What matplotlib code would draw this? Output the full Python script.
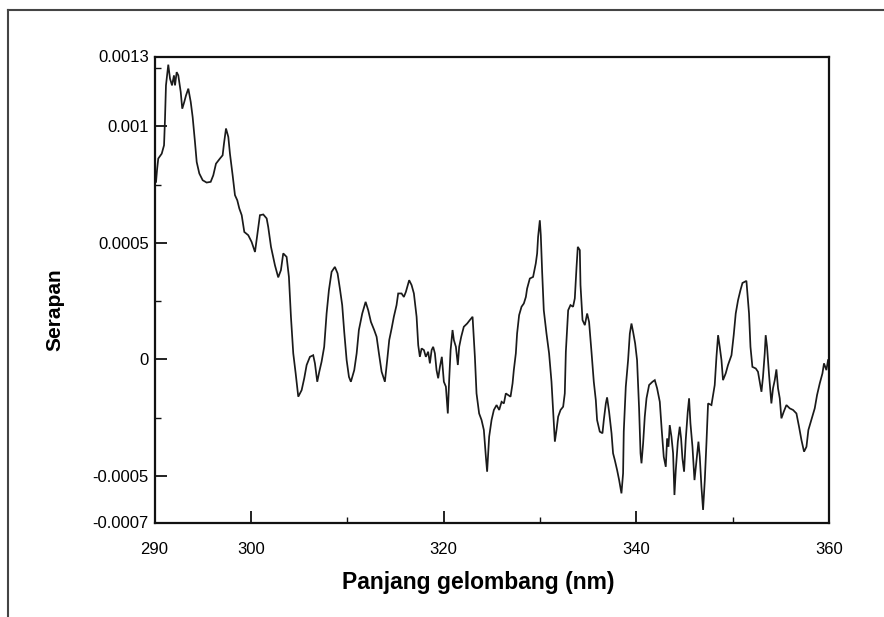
import matplotlib
matplotlib.use("Agg")
import matplotlib.pyplot as plt
from matplotlib.ticker import FixedLocator, FixedFormatter
from matplotlib.lines import Line2D

# ---- data ----
wavelength_nm = [
    290.16, 290.26, 290.39, 290.75, 290.99, 291.09, 291.19, 291.43, 291.61, 291.82,
    292.02, 292.13, 292.30, 292.47, 292.72, 292.88, 293.09, 293.27, 293.51, 293.76,
    293.96, 294.20, 294.38, 294.65, 295.00, 295.41, 295.83, 296.10, 296.38, 296.79,
    297.07, 297.21, 297.42, 297.66, 297.83, 298.11, 298.35, 298.59, 298.80, 299.05,
    299.32, 299.73, 300.08, 300.43, 300.66, 300.94, 301.29, 301.64, 301.80, 302.09,
    302.50, 302.84, 303.12, 303.36, 303.71, 303.95, 304.16, 304.40, 304.65, 304.92,
    305.27, 305.54, 305.79, 306.13, 306.47, 306.65, 306.89, 307.10, 307.34, 307.61,
    307.86, 308.10, 308.38, 308.72, 309.00, 309.24, 309.48, 309.69, 309.94, 310.18,
    310.38, 310.73, 310.98, 311.21, 311.56, 311.91, 312.18, 312.46, 312.80, 313.05,
    313.29, 313.57, 313.91, 314.15, 314.36, 314.61, 314.84, 315.12, 315.29, 315.64,
    315.88, 316.09, 316.43, 316.68, 316.92, 317.20, 317.37, 317.54, 317.72, 317.96,
    318.16, 318.40, 318.58, 318.76, 318.92, 319.10, 319.27, 319.44, 319.62, 319.82,
    320.03, 320.24, 320.44, 320.58, 320.73, 320.93, 321.07, 321.28, 321.48, 321.62,
    321.83, 322.10, 322.45, 322.73, 323.01, 323.25, 323.42, 323.69, 323.94, 324.18,
    324.39, 324.52, 324.73, 324.98, 325.22, 325.50, 325.77, 326.02, 326.26, 326.46,
    326.70, 326.95, 327.16, 327.29, 327.50, 327.63, 327.84, 328.09, 328.33, 328.54,
    328.67, 328.95, 329.29, 329.57, 329.71, 329.81, 329.99, 330.09, 330.23, 330.40,
    330.68, 330.95, 331.20, 331.37, 331.55, 331.72, 331.89, 332.14, 332.41, 332.58,
    332.69, 332.93, 333.17, 333.44, 333.62, 333.80, 333.93, 334.14, 334.21, 334.42,
    334.66, 334.90, 335.10, 335.35, 335.59, 335.80, 335.93, 336.21, 336.49, 336.63,
    336.84, 336.97, 337.18, 337.43, 337.59, 337.77, 338.01, 338.22, 338.46, 338.63,
    338.70, 338.91, 339.15, 339.33, 339.50, 339.67, 339.88, 340.08, 340.29, 340.44,
    340.54, 340.71, 340.88, 341.06, 341.33, 341.68, 341.92, 342.16, 342.44, 342.64,
    342.85, 343.06, 343.20, 343.34, 343.47, 343.65, 343.82, 343.96, 344.10, 344.31,
    344.51, 344.65, 344.79, 344.96, 345.13, 345.34, 345.48, 345.62, 345.83, 346.04,
    346.24, 346.45, 346.59, 346.76, 346.93, 347.11, 347.28, 347.45, 347.80, 348.14,
    348.32, 348.49, 348.66, 348.84, 349.00, 349.28, 349.52, 349.88, 350.11, 350.32,
    350.56, 350.81, 351.02, 351.43, 351.70, 351.85, 352.05, 352.40, 352.63, 352.81,
    352.99, 353.15, 353.33, 353.43, 353.57, 353.78, 354.02, 354.19, 354.37, 354.54,
    354.71, 354.89, 355.06, 355.30, 355.58, 355.92, 356.27, 356.62, 356.89, 357.14,
    357.41, 357.66, 357.86, 358.17, 358.52, 358.76, 359.04, 359.32, 359.48, 359.73,
    359.90,
]

absorbance = [
    0.000762, 0.000812, 0.000862, 0.000883, 0.000919, 0.001033, 0.001176, 0.001265, 0.001205, 0.001176,
    0.001219, 0.001176, 0.001233, 0.001219, 0.001148, 0.001076, 0.001105, 0.001133, 0.001162, 0.001105,
    0.001040, 0.000933, 0.000847, 0.000798, 0.000769, 0.000759, 0.000762, 0.000790, 0.000840, 0.000862,
    0.000876, 0.000926, 0.000991, 0.000955, 0.000883, 0.000790, 0.000705, 0.000683, 0.000648, 0.000619,
    0.000547, 0.000533, 0.000504, 0.000461, 0.000533, 0.000619, 0.000622, 0.000605, 0.000569, 0.000483,
    0.000404, 0.000352, 0.000383, 0.000455, 0.000440, 0.000354, 0.000183, 0.000026, -0.000060, -0.000160,
    -0.000132, -0.000081, -0.000024, 0.000011, 0.000018, -0.000017, -0.000096, -0.000053, -0.000010, 0.000054,
    0.000197, 0.000297, 0.000376, 0.000397, 0.000369, 0.000304, 0.000233, 0.000118, -0.000003, -0.000075,
    -0.000096, -0.000046, 0.000026, 0.000126, 0.000197, 0.000247, 0.000211, 0.000161, 0.000126, 0.000097,
    0.000026, -0.000053, -0.000096, -0.000003, 0.000083, 0.000133, 0.000183, 0.000233, 0.000283, 0.000283,
    0.000268, 0.000290, 0.000340, 0.000319, 0.000283, 0.000183, 0.000061, 0.000011, 0.000047, 0.000040,
    0.000011, 0.000033, -0.000017, 0.000040, 0.000054, 0.000026, -0.000046, -0.000081, -0.000032, 0.000011,
    -0.000096, -0.000117, -0.000232, -0.000089, 0.000040, 0.000126, 0.000083, 0.000054, -0.000024, 0.000054,
    0.000097, 0.000140, 0.000154, 0.000169, 0.000183, 0.000011, -0.000146, -0.000232, -0.000260, -0.000303,
    -0.000418, -0.000482, -0.000332, -0.000260, -0.000217, -0.000196, -0.000217, -0.000182, -0.000189, -0.000146,
    -0.000153, -0.000160, -0.000103, -0.000046, 0.000026, 0.000111, 0.000190, 0.000226, 0.000240, 0.000268,
    0.000304, 0.000347, 0.000354, 0.000412, 0.000455, 0.000526, 0.000597, 0.000533, 0.000376, 0.000211,
    0.000111, 0.000026, -0.000096, -0.000225, -0.000353, -0.000303, -0.000246, -0.000217, -0.000203, -0.000146,
    0.000033, 0.000211, 0.000233, 0.000226, 0.000262, 0.000397, 0.000483, 0.000469, 0.000319, 0.000169,
    0.000147, 0.000197, 0.000161, 0.000033, -0.000096, -0.000175, -0.000260, -0.000310, -0.000317, -0.000260,
    -0.000189, -0.000163, -0.000225, -0.000317, -0.000403, -0.000432, -0.000475, -0.000518, -0.000575, -0.000489,
    -0.000310, -0.000117, -0.000003, 0.000111, 0.000154, 0.000118, 0.000069, -0.000003, -0.000210, -0.000403,
    -0.000446, -0.000360, -0.000246, -0.000167, -0.000110, -0.000096, -0.000089, -0.000124, -0.000182, -0.000303,
    -0.000418, -0.000461, -0.000339, -0.000375, -0.000282, -0.000332, -0.000403, -0.000582, -0.000475, -0.000353,
    -0.000289, -0.000339, -0.000425, -0.000482, -0.000346, -0.000225, -0.000167, -0.000274, -0.000375, -0.000518,
    -0.000439, -0.000353, -0.000418, -0.000546, -0.000646, -0.000518, -0.000360, -0.000189, -0.000196, -0.000110,
    0.000011, 0.000104, 0.000054, -0.000003, -0.000089, -0.000060, -0.000024, 0.000018, 0.000104, 0.000197,
    0.000254, 0.000297, 0.000328, 0.000337, 0.000197, 0.000054, -0.000032, -0.000039, -0.000053, -0.000096,
    -0.000139, -0.000075, 0.000026, 0.000104, 0.000054, -0.000067, -0.000189, -0.000124, -0.000089, -0.000043,
    -0.000124, -0.000167, -0.000253, -0.000225, -0.000196, -0.000210, -0.000217, -0.000232, -0.000289, -0.000346,
    -0.000396, -0.000375, -0.000303, -0.000260, -0.000210, -0.000153, -0.000103, -0.000060, -0.000017, -0.000046,
    -0.000003,
]

x_limits = (290, 360)
y_limits = (-0.0007, 0.0013)
x_major = [290, 300, 320, 340, 360]
x_major_labels = ["290", "300", "320", "340", "360"]
x_minor = [310, 330, 350]
y_major = [-0.0007, -0.0005, 0.0, 0.0005, 0.001, 0.0013]
y_major_labels = ["-0.0007", "-0.0005", "0", "0.0005", "0.001", "0.0013"]
y_minor = [-0.00025, 0.00025, 0.00075, 0.00125]
x_title = "Panjang gelombang (nm)"
y_title = "Serapan"

# ---- figure ----
W, H = 884, 617
fig = plt.figure(figsize=(W / 100, H / 100), dpi=100)
fig.patch.set_facecolor("white")

L, R, T, B = 154.5, 829.0, 56.5, 522.5
ax = fig.add_axes([L / W, 1 - B / H, (R - L) / W, (B - T) / H])

ax.plot(wavelength_nm, absorbance, color="#1a1a1a", linewidth=1.25,
        solid_joinstyle="miter")
ax.set_xlim(*x_limits)
ax.set_ylim(*y_limits)

font = "Liberation Sans"
ax.xaxis.set_major_locator(FixedLocator(x_major))
ax.xaxis.set_major_formatter(FixedFormatter(x_major_labels))
ax.xaxis.set_minor_locator(FixedLocator(x_minor))
ax.yaxis.set_major_locator(FixedLocator(y_major))
ax.yaxis.set_major_formatter(FixedFormatter(y_major_labels))
ax.yaxis.set_minor_locator(FixedLocator(y_minor))

ax.tick_params(which="major", direction="in", length=8.6, width=1.3, colors="#111111",
               labelsize=12, labelcolor="black")
ax.tick_params(which="minor", direction="in", length=4.5, width=1.0, colors="#111111")
ax.tick_params(axis="x", which="major", pad=14)
ax.tick_params(axis="y", which="major", pad=4)
for lab in ax.get_xticklabels() + ax.get_yticklabels():
    lab.set_fontfamily(font)

for s in ax.spines.values():
    s.set_linewidth(1.6)
    s.set_color("#111111")

ax.set_xlabel(x_title, fontsize=16.5, fontweight="bold", family=font, va="center")
ax.xaxis.set_label_coords((478 - L) / (R - L), (B - 583) / (B - T))
ax.set_ylabel(y_title, fontsize=15, fontweight="bold", family=font, va="center")
ax.yaxis.set_label_coords((55 - L) / (R - L), (B - 310) / (B - T))

# outer frame of the original picture (left and top edges visible)
fig.add_artist(Line2D([8 / W, 8 / W], [0, 1 - 10 / H], transform=fig.transFigure,
                      color="#444444", linewidth=1.5))
fig.add_artist(Line2D([8 / W, 1], [1 - 10 / H, 1 - 10 / H], transform=fig.transFigure,
                      color="#444444", linewidth=1.5))

fig.savefig("out.png", dpi=100, facecolor="white")
